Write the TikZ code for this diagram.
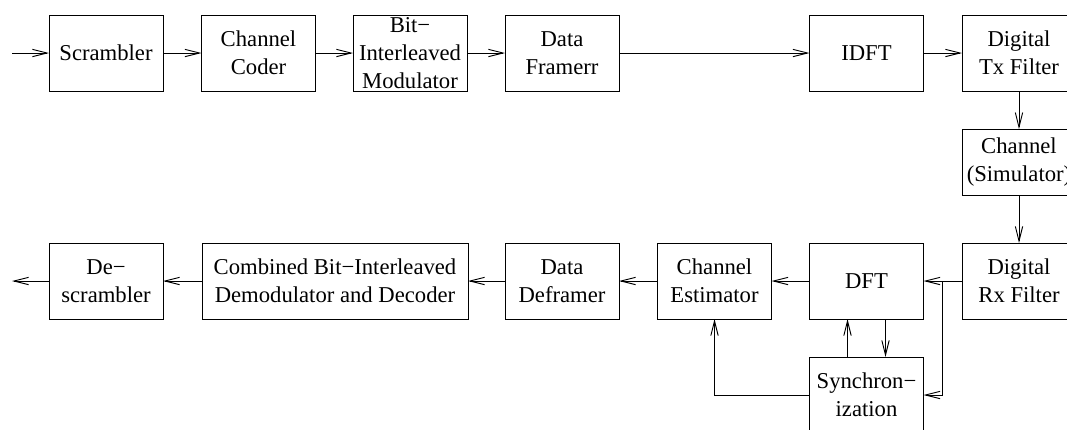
\documentclass[tikz,border=0pt]{standalone}
\usepackage{fontspec}
\setmainfont{Liberation Serif}
\usepackage{tikz}
\usetikzlibrary{arrows.meta,positioning}
\tikzset{blk/.style={rectangle,draw,line width=0.7pt,inner sep=0pt,outer sep=0pt,minimum width=85.5pt,minimum height=57pt,align=center,font=\fontsize{17pt}{21pt}\selectfont}}

\begin{document}
\begin{tikzpicture}[x=0.75pt,y=-0.75pt,>={Straight Barb[length=11pt,width=5.5pt]},line width=0.7pt]
    \useasboundingbox (0,0) rectangle (1067,429);
    % transmitter
    \node[blk] (scr) at (106,53) {Scrambler};
    \node[blk] (coder) at (258.5,53) {Channel\\Coder};
    \node[blk] (bim) at (410,53) {Bit−\\Interleaved\\Modulator};
    \node[blk] (framer) at (562,53) {Data\\Framerr};
    \node[blk] (idft) at (866.5,53) {IDFT};
    \node[blk] (txf) at (1019,53) {Digital\\Tx Filter};
    \node[blk,minimum height=50pt] (chan) at (1019,162.5) {Channel\\(Simulator)};
    % receiver
    \node[blk] (rxf) at (1019,281) {Digital\\Rx Filter};
    \node[blk] (dft) at (866.5,281) {DFT};
    \node[blk] (est) at (714.5,281) {Channel\\Estimator};
    \node[blk] (deframer) at (562,281) {Data\\Deframer};
    \node[blk,minimum width=199.5pt] (demod) at (335,281) {Combined Bit−Interleaved\\Demodulator and Decoder};
    \node[blk] (descr) at (106,281) {De−\\scrambler};
    \node[blk] (sync) at (866.5,395) {Synchron−\\ization};
    \coordinate (in) at (12,53);
    \coordinate (out) at (12,281);
    \coordinate (br) at (942,281);

    \draw [->] (in) -- (scr);
    \draw [->] (scr) -- (coder);
    \draw [->] (coder) -- (bim);
    \draw [->] (bim) -- (framer);
    \draw [->] (framer) -- (idft);
    \draw [->] (idft) -- (txf);
    \draw [->] (txf) -- (chan);
    \draw [->] (chan) -- (rxf);
    \draw [->] (rxf) -- (dft);
    \draw [->] (dft) -- (est);
    \draw [->] (est) -- (deframer);
    \draw [->] (deframer) -- (demod);
    \draw [->] (demod) -- (descr);
    \draw [->] (descr) -- (out);
    \draw [->] (br) |- (sync.east);
    \draw [->] ([xshift=-14.25pt]sync.north) -- ([xshift=-14.25pt]dft.south);
    \draw [->] ([xshift=14.25pt]dft.south) -- ([xshift=14.25pt]sync.north);
    \draw [->] (sync.west) -| (est.south);
\end{tikzpicture}
\end{document}
